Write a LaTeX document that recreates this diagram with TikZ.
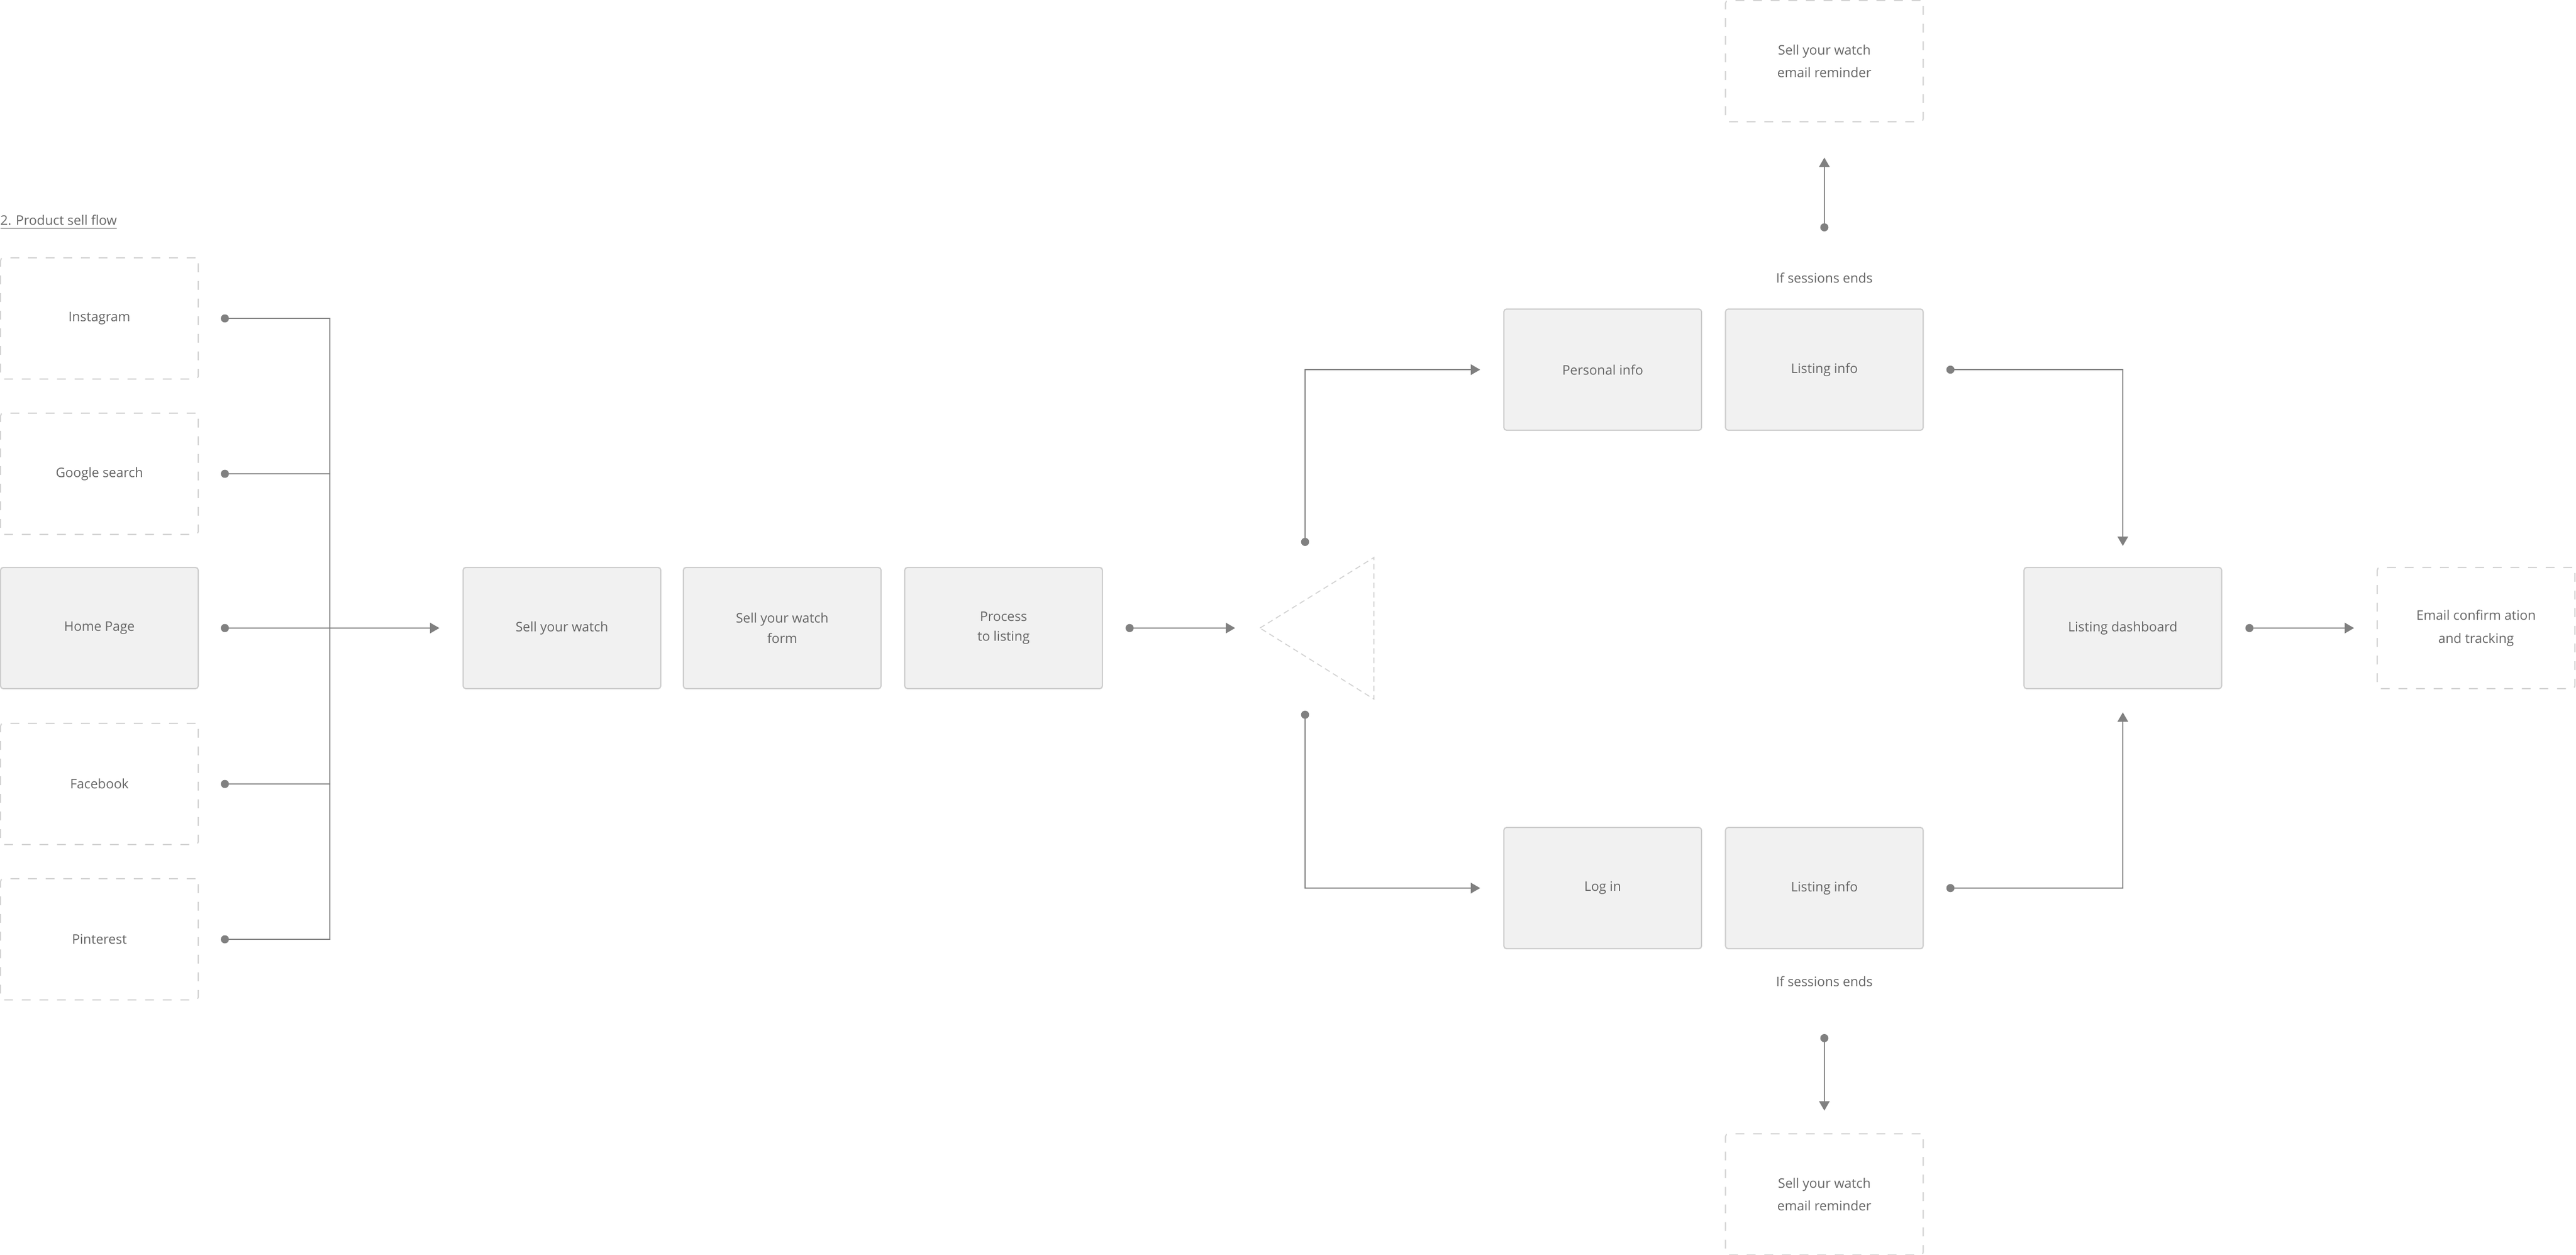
\documentclass[tikz,border=0pt]{standalone}
\usepackage{fontspec}
\setmainfont{Open Sans}
\usepackage{tikz}
\usetikzlibrary{arrows.meta}
\usepackage{xcolor}
\definecolor{linegray}{HTML}{808080}
\definecolor{boxfill}{HTML}{F1F1F1}
\definecolor{boxline}{HTML}{CCCCCC}
\definecolor{dashline}{HTML}{D2D2D2}
\definecolor{textgray}{HTML}{666666}

\begin{document}
\begin{tikzpicture}[
  every node/.style={text=textgray, font=\fontsize{6.8}{11.9}\selectfont, align=center},
  screen/.style={draw=boxline, fill=boxfill, line width=0.6pt, rounded corners=1.4pt, minimum width=3.59cm, minimum height=2.2cm, inner sep=0pt},
  ghost/.style={draw=dashline, line width=0.6pt, dash pattern=on 0.16cm off 0.16cm, rounded corners=1.4pt, minimum width=3.59cm, minimum height=2.2cm, inner sep=0pt},
  tight/.style={font=\fontsize{6.8}{10.4}\selectfont},
  link/.style={draw=linegray, line width=0.65pt, {Circle[length=0.147cm]}-},
  flow/.style={draw=linegray, line width=0.65pt, {Circle[length=0.147cm]}-{Triangle[length=0.17cm,width=0.19cm]}}
]
\useasboundingbox (0,0) rectangle (46.78,-22.78);

%title
\node[anchor=base west, inner sep=0pt] (title) at (0,-4.09) {\underline{2. Product sell flow}};

%entry points
\node[ghost] (instagram) at (1.805,-5.78) {Instagram};
\node[ghost] (google) at (1.805,-8.60) {Google search};
\node[screen] (home) at (1.805,-11.40) {Home Page};
\node[ghost] (facebook) at (1.805,-14.23) {Facebook};
\node[ghost] (pinterest) at (1.805,-17.05) {Pinterest};

%main row
\node[screen] (sellwatch) at (10.205,-11.40) {Sell your watch};
\node[screen, tight] (sellform) at (14.205,-11.40) {Sell your watch\\form};
\node[screen, tight] (process) at (18.225,-11.40) {Process\\to listing};

%split triangle
\coordinate (tritip) at (22.88,-11.40); \coordinate (tritop) at (24.95,-10.12); \coordinate (tribot) at (24.95,-12.69);
\draw[draw=dashline, line width=0.5pt, dash pattern=on 0.1cm off 0.07cm] (tritip) -- (tritop) -- (tribot) -- cycle;
\coordinate (splitup) at (23.70,-9.91); \coordinate (splitdown) at (23.70,-12.90);

%branches
\node[screen] (personal) at (29.105,-6.71) {Personal info};
\node[screen] (listup) at (33.13,-6.71) {Listing info};
\node[screen] (login) at (29.105,-16.12) {Log in};
\node[screen] (listdown) at (33.13,-16.12) {Listing info};
\node[screen] (dashboard) at (38.55,-11.40) {Listing dashboard};
\node[ghost] (email) at (44.965,-11.40) {Email confirm ation\\and tracking};

%session reminders
\node (ifup) at (33.13,-5.04) {If sessions ends};
\node (ifdown) at (33.13,-17.81) {If sessions ends};
\node[ghost] (remindup) at (33.13,-1.11) {Sell your watch\\email reminder};
\node[ghost] (reminddown) at (33.13,-21.68) {Sell your watch\\email reminder};

%connectors
\coordinate (bus) at (5.99,-11.40);
\foreach \src in {instagram,google,facebook,pinterest}
  \draw[link] ([xshift=0.4cm]\src.east) -| (bus);
\draw[flow] ([xshift=0.4cm]home.east) -- ([xshift=-0.42cm]sellwatch.west);
\draw[flow] ([xshift=0.41cm]process.east) -- ([xshift=-0.45cm]tritip);
\draw[flow] (splitup) |- ([xshift=-0.42cm]personal.west);
\draw[flow] (splitdown) |- ([xshift=-0.42cm]login.west);
\draw[flow] ([xshift=0.41cm]listup.east) -| ([yshift=0.38cm]dashboard.north);
\draw[flow] ([xshift=0.41cm]listdown.east) -| ([yshift=-0.42cm]dashboard.south);
\draw[flow] ([xshift=0.42cm]dashboard.east) -- ([xshift=-0.41cm]email.west);
\draw[flow] ([yshift=0.84cm]ifup.center) -- ([yshift=-0.64cm]remindup.south);
\draw[flow] ([yshift=-0.96cm]ifdown.center) -- ([yshift=0.41cm]reminddown.north);
\end{tikzpicture}
\end{document}
